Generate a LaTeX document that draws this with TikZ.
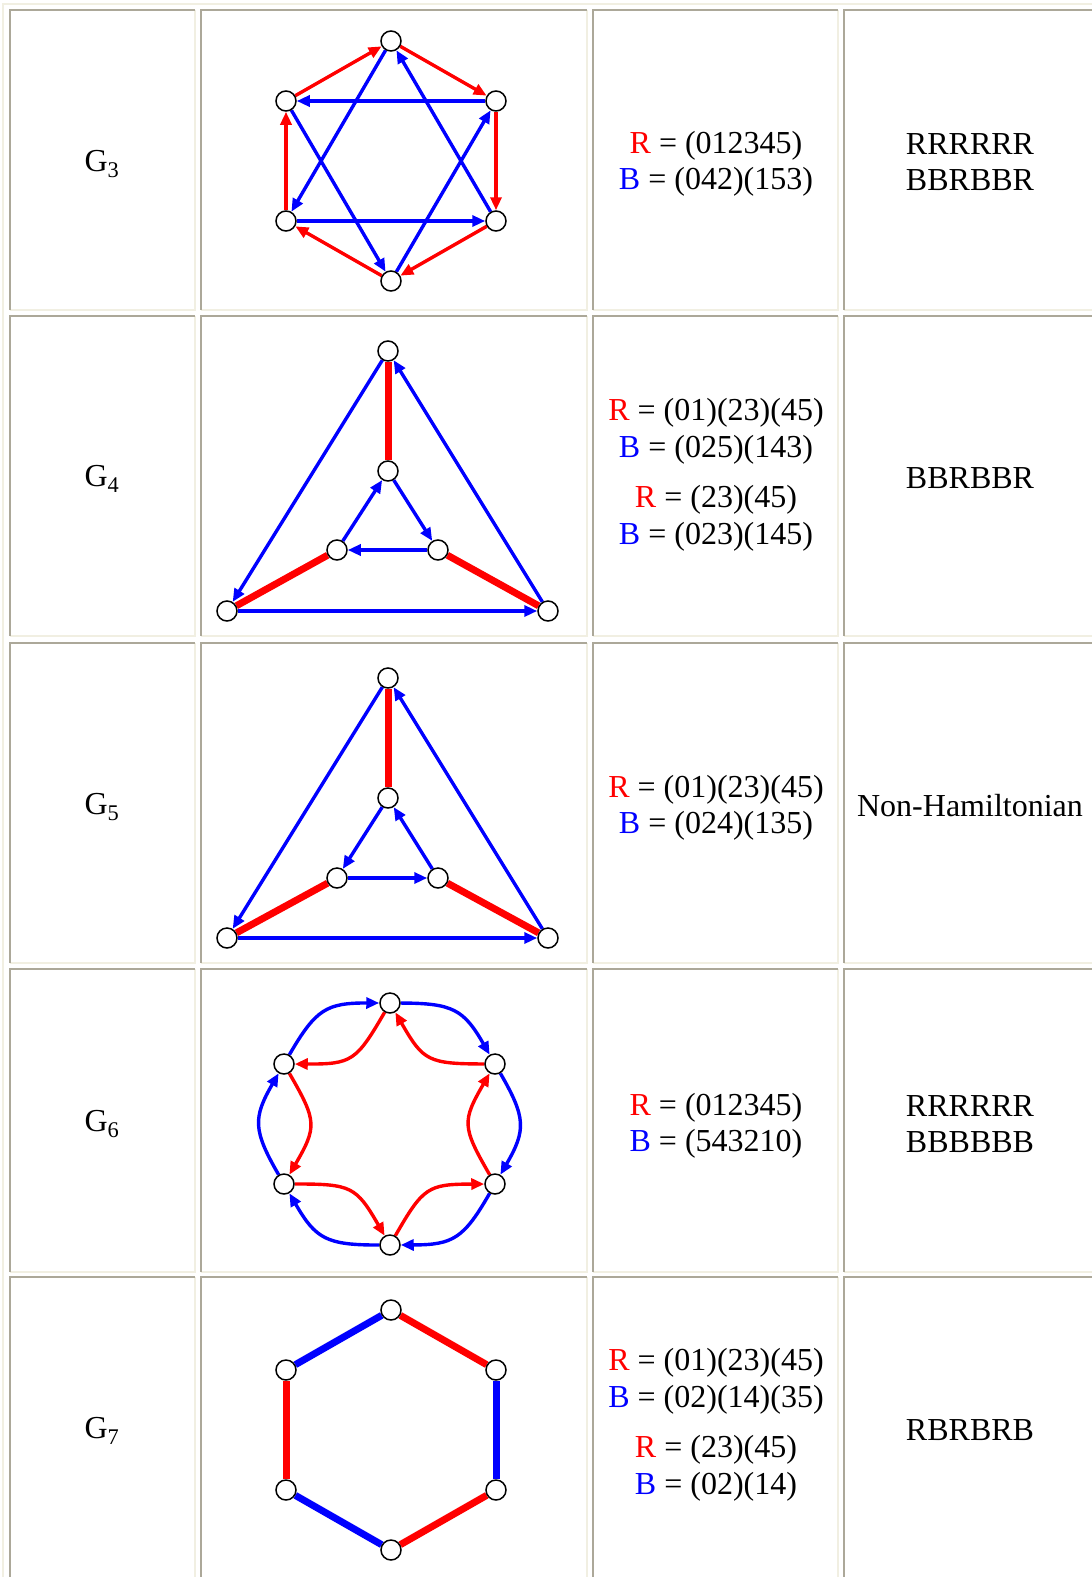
\documentclass[tikz,border=0pt]{standalone}
\usepackage{fontspec}
\setmainfont{Liberation Serif}
\usepackage{xcolor}
\definecolor{cellgray}{RGB}{172,168,153}
\definecolor{celllight}{RGB}{241,239,226}
\definecolor{permred}{RGB}{255,0,0}
\definecolor{permblue}{RGB}{0,0,255}
\usepackage{tikz}
\usetikzlibrary{arrows.meta,backgrounds}
\newcommand{\permR}{\textcolor{permred}{R}}
\newcommand{\permB}{\textcolor{permblue}{B}}

\begin{document}
\begin{tikzpicture}[x=1pt,y=1pt,
    vtx/.style={circle,draw=black,fill=white,line width=1.5pt,
                minimum size=20pt,inner sep=0pt},
    redarc/.style={permred,line width=3.4pt,-{Triangle[length=13pt,width=11pt]}},
    bluearc/.style={permblue,line width=3.4pt,-{Triangle[length=13pt,width=11pt]}},
    redbar/.style={permred,line width=7pt},
    bluebar/.style={permblue,line width=7pt},
    txt/.style={font=\fontsize{32}{36.5}\selectfont,align=center,inner sep=0pt}]
    \useasboundingbox (0,0) rectangle (1092,-1577);
    \draw[celllight,line width=2pt] (3,-1600) -- (3,-4) -- (1100,-4);
    \foreach \xl/\xrr in {10/195,201/587,593/838,844/1098}
      \foreach \yt/\yb in {10/310,316/636,643/963,969/1272,1277/1595} {
        \draw[celllight,line width=2pt] (\xl,-\yb) -- (\xrr,-\yb) -- (\xrr,-\yt);
        \draw[cellgray,line width=2pt] (\xl,-\yb) -- (\xl,-\yt) -- (\xrr,-\yt);
      }

    \node[txt] (name3) at (102,-164) {G\textsubscript{3}};
    \node[txt] (name4) at (102,-479) {G\textsubscript{4}};
    \node[txt] (name5) at (102,-807) {G\textsubscript{5}};
    \node[txt] (name6) at (102,-1124) {G\textsubscript{6}};
    \node[txt] (name7) at (102,-1431) {G\textsubscript{7}};

    \node[txt] (perm3) at (716,-164) {\permR{} = (012345)\\\permB{} = (042)(153)};
    \node[txt] (perm4) at (716,-475)
      {\permR{} = (01)(23)(45)\\\permB{} = (025)(143)\\[14pt]
       \permR{} = (23)(45)\\\permB{} = (023)(145)};
    \node[txt] (perm5) at (716,-808) {\permR{} = (01)(23)(45)\\\permB{} = (024)(135)};
    \node[txt] (perm6) at (716,-1126) {\permR{} = (012345)\\\permB{} = (543210)};
    \node[txt] (perm7) at (716,-1425)
      {\permR{} = (01)(23)(45)\\\permB{} = (02)(14)(35)\\[14pt]
       \permR{} = (23)(45)\\\permB{} = (02)(14)};

    \node[txt] (word3) at (970,-162) {RRRRRR\\BBRBBR};
    \node[txt] (word4) at (970,-478) {BBRBBR};
    \node[txt] (word5) at (970,-806) {Non-Hamiltonian};
    \node[txt] (word6) at (970,-1124) {RRRRRR\\BBBBBB};
    \node[txt] (word7) at (970,-1430) {RBRBRB};

    \node[vtx] (a0) at (391,-41) {};
    \node[vtx] (a1) at (496,-101) {};
    \node[vtx] (a2) at (496,-221) {};
    \node[vtx] (a3) at (391,-281) {};
    \node[vtx] (a4) at (286,-221) {};
    \node[vtx] (a5) at (286,-101) {};

    \node[vtx] (b0) at (388,-351) {};
    \node[vtx] (b1) at (388,-471) {};
    \node[vtx] (b2) at (227,-611) {};
    \node[vtx] (b3) at (337,-550) {};
    \node[vtx] (b4) at (438,-550) {};
    \node[vtx] (b5) at (548,-611) {};

    \node[vtx] (c0) at (388,-678) {};
    \node[vtx] (c1) at (388,-798) {};
    \node[vtx] (c2) at (227,-938) {};
    \node[vtx] (c3) at (337,-878) {};
    \node[vtx] (c4) at (548,-938) {};
    \node[vtx] (c5) at (438,-878) {};

    \node[vtx] (e0) at (390,-1003) {};
    \node[vtx] (e1) at (284,-1064) {};
    \node[vtx] (e2) at (284,-1184) {};
    \node[vtx] (e3) at (390,-1245) {};
    \node[vtx] (e4) at (495,-1184) {};
    \node[vtx] (e5) at (495,-1064) {};

    \node[vtx] (d0) at (391,-1310) {};
    \node[vtx] (d1) at (496,-1370) {};
    \node[vtx] (d2) at (286,-1370) {};
    \node[vtx] (d3) at (286,-1490) {};
    \node[vtx] (d4) at (496,-1490) {};
    \node[vtx] (d5) at (391,-1550) {};

    \begin{scope}[on background layer]
      \foreach \s/\t in {0/1,1/2,2/3,3/4,4/5,5/0} \draw[redarc] (a\s) -- (a\t);
      \foreach \s/\t in {0/4,4/2,2/0,1/5,5/3,3/1} \draw[bluearc] (a\s) -- (a\t);

      \foreach \s/\t in {0/1,2/3,4/5} \draw[redbar] (b\s) -- (b\t);
      \foreach \s/\t in {0/2,2/5,5/0,1/4,4/3,3/1} \draw[bluearc] (b\s) -- (b\t);

      \foreach \s/\t in {0/1,2/3,4/5} \draw[redbar] (c\s) -- (c\t);
      \foreach \s/\t in {0/2,2/4,4/0,1/3,3/5,5/1} \draw[bluearc] (c\s) -- (c\t);

      \foreach \s/\t in {0/1,1/2,2/3,3/4,4/5,5/0}
        \draw[redarc] (e\s) to[bend left=30,looseness=1.4] (e\t);
      \foreach \s/\t in {5/4,4/3,3/2,2/1,1/0,0/5}
        \draw[bluearc] (e\s) to[bend left=30,looseness=1.3] (e\t);

      \foreach \s/\t in {0/1,2/3,4/5} \draw[redbar] (d\s) -- (d\t);
      \foreach \s/\t in {0/2,1/4,3/5} \draw[bluebar] (d\s) -- (d\t);
    \end{scope}
\end{tikzpicture}
\end{document}
